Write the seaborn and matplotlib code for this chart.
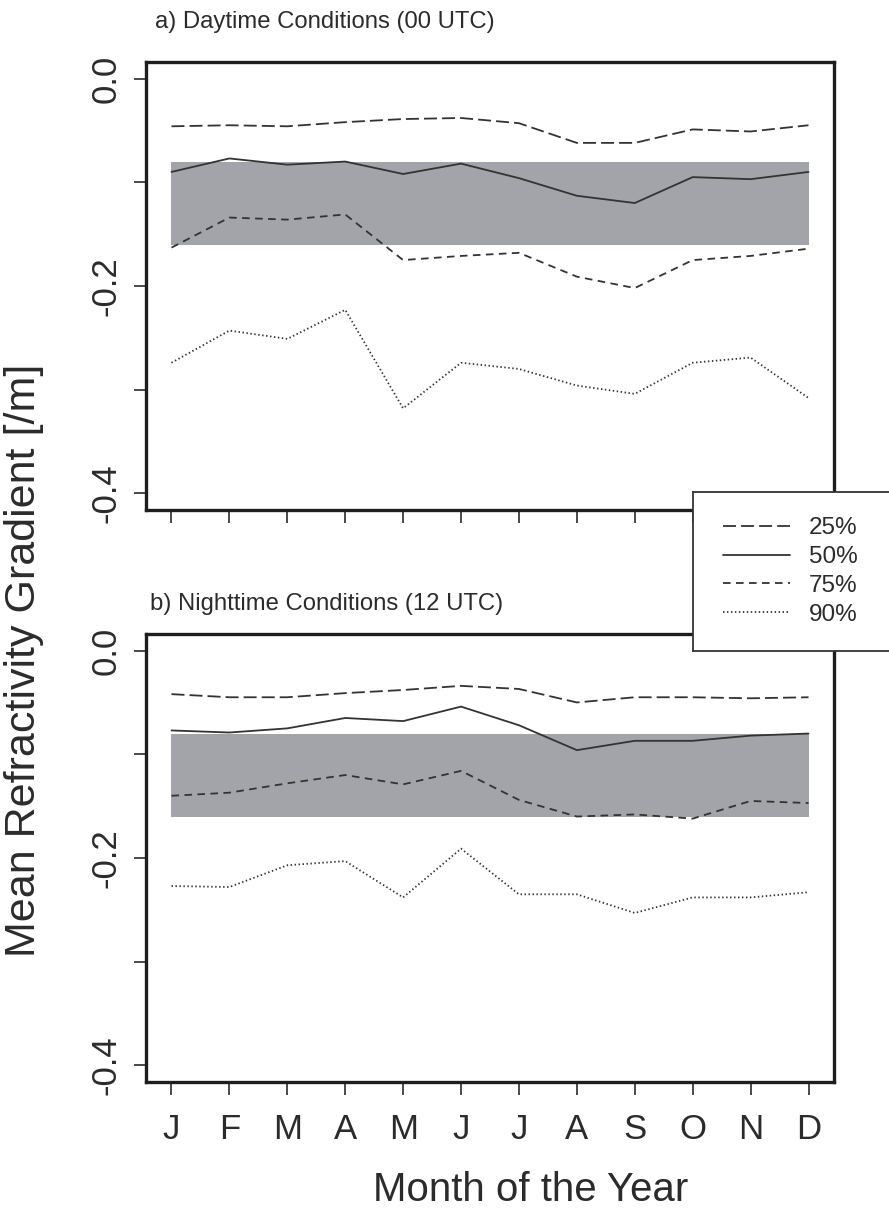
import numpy as np
import pandas as pd
import matplotlib
matplotlib.use("Agg")
import matplotlib.pyplot as plt
import seaborn as sns
from matplotlib.lines import Line2D

# ---- data -------------------------------------------------------------
months = ["J", "F", "M", "A", "M", "J", "J", "A", "S", "O", "N", "D"]
month_num = list(range(1, 13))
percentiles = ["25%", "50%", "75%", "90%"]

# a) daytime (00 UTC) percentiles of the mean refractivity gradient
day_p25 = [-0.046, -0.045, -0.046, -0.042, -0.039, -0.038, -0.043, -0.062, -0.062, -0.049, -0.051, -0.045]
day_p50 = [-0.090, -0.077, -0.083, -0.080, -0.092, -0.082, -0.096, -0.113, -0.120, -0.095, -0.097, -0.090]
day_p75 = [-0.163, -0.134, -0.136, -0.131, -0.175, -0.171, -0.168, -0.191, -0.202, -0.175, -0.171, -0.164]
day_p90 = [-0.274, -0.243, -0.251, -0.223, -0.318, -0.274, -0.280, -0.296, -0.304, -0.274, -0.269, -0.308]

# b) nighttime (12 UTC)
night_p25 = [-0.042, -0.045, -0.045, -0.041, -0.038, -0.034, -0.037, -0.050, -0.045, -0.045, -0.046, -0.045]
night_p50 = [-0.077, -0.079, -0.075, -0.065, -0.068, -0.054, -0.072, -0.096, -0.087, -0.087, -0.082, -0.080]
night_p75 = [-0.140, -0.137, -0.128, -0.120, -0.129, -0.116, -0.144, -0.160, -0.158, -0.162, -0.145, -0.147]
night_p90 = [-0.227, -0.228, -0.207, -0.203, -0.238, -0.191, -0.235, -0.235, -0.253, -0.238, -0.238, -0.233]

# standard-atmosphere reference band
band_upper = -0.08
band_lower = -0.16

yticks = [0.0, -0.1, -0.2, -0.3, -0.4]
ytick_labels = ["0.0", "", "-0.2", "", "-0.4"]

panel_titles = ["a) Daytime Conditions (00 UTC)", "b) Nighttime Conditions (12 UTC)"]


def to_long(p25, p50, p75, p90):
    rows = []
    for name, vals in zip(percentiles, [p25, p50, p75, p90]):
        for m, v in zip(month_num, vals):
            rows.append({"month": m, "value": v, "pct": name})
    return pd.DataFrame(rows)


day_df = to_long(day_p25, day_p50, day_p75, day_p90)
night_df = to_long(night_p25, night_p50, night_p75, night_p90)

# ---- style ------------------------------------------------------------
sns.set_style("ticks")
plt.rcParams["font.family"] = ["Liberation Sans", "DejaVu Sans"]
ink = "#2b2b2b"
line_col = "#333333"
band_col = "#a3a4a9"
lw = 1.3
dash_map = {"25%": (7.2, 2.8), "50%": "", "75%": (4.2, 3.0), "90%": (0.8, 1.4)}

fig = plt.figure(figsize=(8.89, 12.21), dpi=100)
W, H = 889.0, 1221.0


def axes_px(left, top, right, bottom):
    return fig.add_axes([left / W, 1 - bottom / H, (right - left) / W, (bottom - top) / H])


ax_day = axes_px(146, 62, 834, 510)
ax_night = axes_px(146, 634, 834, 1082)

for ax, df, show_x in [(ax_day, day_df, False), (ax_night, night_df, True)]:
    ax.fill_between(month_num, band_lower, band_upper, color=band_col, linewidth=0, zorder=1)
    sns.lineplot(data=df, x="month", y="value", style="pct", style_order=percentiles,
                 dashes=dash_map, color=line_col, linewidth=lw, estimator=None,
                 legend=False, ax=ax, zorder=3)
    ax.set_xlim(0.56, 12.44)
    ax.set_ylim(-0.416, 0.016)
    ax.set_xticks(month_num)
    ax.set_yticks(yticks)
    ax.set_yticklabels(ytick_labels, rotation=90, va="center", fontsize=25, color=ink)
    if show_x:
        ax.set_xticklabels(months, fontsize=25, color=ink)
    else:
        ax.set_xticklabels([])
    ax.tick_params(axis="both", direction="out", length=9, width=1.2, color=ink, pad=8)
    ax.tick_params(axis="x", pad=13)
    ax.set_xlabel("")
    ax.set_ylabel("")
    for s in ax.spines.values():
        s.set_visible(True)
        s.set_linewidth(2.4)
        s.set_color("#1e1e1e")
    ax.grid(False)

fig.text(155 / W, 1 - 22 / H, panel_titles[0], fontsize=17.2, color=ink, ha="left", va="center")
fig.text(150 / W, 1 - 604 / H, panel_titles[1], fontsize=17.2, color=ink, ha="left", va="center")

fig.text(531 / W, 1 - 1190 / H, "Month of the Year", fontsize=29, color=ink, ha="center", va="center")
fig.text(24 / W, 1 - 660 / H, "Mean Refractivity Gradient [/m]", fontsize=31, color=ink,
         rotation=90, ha="center", va="center")

# legend box, running off the right edge of the page
ax_leg = axes_px(693, 492, 892, 651)
ax_leg.set_xticks([])
ax_leg.set_yticks([])
ax_leg.set_facecolor("white")
for s in ax_leg.spines.values():
    s.set_linewidth(1.3)
    s.set_color("#333333")
handles = [Line2D([], [], color=line_col, linewidth=lw, linestyle=(0, dash_map[p]))
           if dash_map[p] else Line2D([], [], color=line_col, linewidth=lw, linestyle="-")
           for p in percentiles]
ax_leg.legend(handles, percentiles, loc="center left", bbox_to_anchor=(0.04, 0.5),
              frameon=False, fontsize=17.5, handlelength=2.75, handletextpad=0.8,
              labelspacing=0.28, labelcolor=ink)

fig.savefig("out.png", dpi=100)
